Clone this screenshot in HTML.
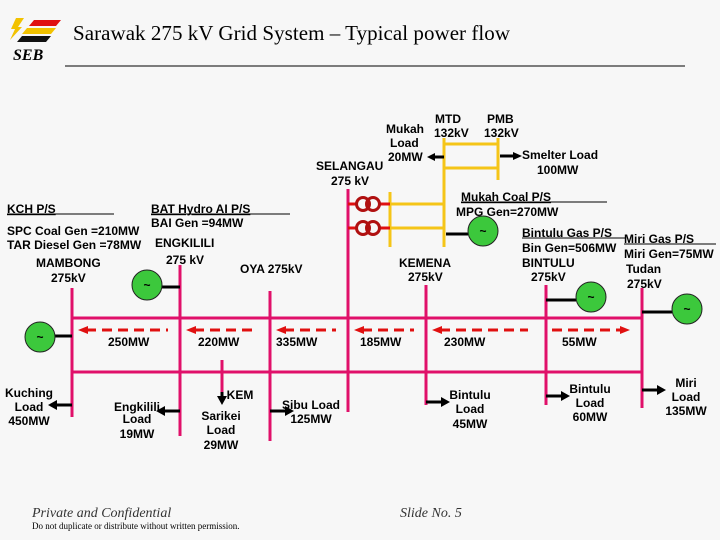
<!DOCTYPE html>
<html><head><style>
body{margin:0;background:#f7f7f7;}
svg{display:block}
.t{font-family:"Liberation Sans",sans-serif;font-weight:bold;font-size:12px;fill:#000}
.c{text-anchor:middle}
</style></head><body>
<svg width="720" height="540" viewBox="0 0 720 540" xmlns="http://www.w3.org/2000/svg">
<rect width="720" height="540" fill="#f7f7f7"/>
<!-- logo -->
<polygon points="16,18 24,18 18,27 22,27 10,40 15,29 11,29" fill="#f2c200"/>
<polygon points="34,20 61,20 56,26 29,26" fill="#e01010"/>
<polygon points="27,28 56,28 51,34 22,34" fill="#f2c200"/>
<polygon points="22,36 51,36 46,42 17,42" fill="#111"/>
<text x="13" y="60" font-family="Liberation Serif,serif" font-style="italic" font-weight="bold" font-size="16">SEB</text>
<text x="73" y="40" font-family="Liberation Serif,serif" font-size="21" textLength="437">Sarawak 275 kV Grid System – Typical power flow</text>
<line x1="65" y1="66" x2="685" y2="66" stroke="#000" stroke-width="1"/>

<!-- pink buses -->
<g stroke="#e0106a" stroke-width="3">
<line x1="72" y1="318" x2="642" y2="318"/>
<line x1="72" y1="372" x2="642" y2="372"/>
<line x1="72" y1="288" x2="72" y2="417"/>
<line x1="180" y1="265" x2="180" y2="436"/>
<line x1="270" y1="291" x2="270" y2="441"/>
<line x1="222" y1="360" x2="222" y2="392"/>
<line x1="348" y1="189" x2="348" y2="412"/>
<line x1="426" y1="285" x2="426" y2="405"/>
<line x1="546" y1="285" x2="546" y2="405"/>
<line x1="642" y1="288" x2="642" y2="408"/>
<line x1="348" y1="204" x2="356" y2="204" stroke="#e01010"/>
<line x1="348" y1="228" x2="356" y2="228" stroke="#e01010"/>
</g>
<!-- yellow -->
<g stroke="#f5c518" stroke-width="3">
<line x1="444" y1="138" x2="444" y2="247"/>
<line x1="498" y1="138" x2="498" y2="180"/>
<line x1="444" y1="144" x2="498" y2="144"/>
<line x1="444" y1="168" x2="498" y2="168"/>
<line x1="390" y1="192" x2="390" y2="247"/>
<line x1="390" y1="204" x2="444" y2="204"/>
<line x1="390" y1="228" x2="444" y2="228"/>
<line x1="380" y1="204" x2="390" y2="204" stroke="#e01010"/>
<line x1="380" y1="228" x2="390" y2="228" stroke="#e01010"/>
</g>
<!-- transformers -->
<g fill="none" stroke="#b01010" stroke-width="3">
<circle cx="363" cy="204" r="6.5"/><circle cx="373" cy="204" r="6.5"/>
<circle cx="363" cy="228" r="6.5"/><circle cx="373" cy="228" r="6.5"/>
</g>
<!-- generators -->
<g stroke="#000" stroke-width="3">
<line x1="55" y1="336" x2="72" y2="336"/>
<line x1="162" y1="287" x2="180" y2="287"/>
<line x1="446" y1="234" x2="468" y2="234"/>
<line x1="546" y1="300" x2="576" y2="300"/>
<line x1="642" y1="312" x2="672" y2="312"/>
</g>
<g fill="#3cc83c" stroke="#222" stroke-width="1">
<circle cx="40" cy="337" r="15"/>
<circle cx="147" cy="285" r="15"/>
<circle cx="483" cy="231" r="15"/>
<circle cx="591" cy="297" r="15"/>
<circle cx="687" cy="309" r="15"/>
</g>
<g class="t c" font-weight="normal">
<text x="40" y="341">~</text><text x="147" y="289">~</text><text x="483" y="235">~</text><text x="591" y="301">~</text><text x="687" y="313">~</text>
</g>
<!-- black arrows -->
<g stroke="#000" stroke-width="3">
<line x1="72" y1="405" x2="56" y2="405"/>
<line x1="180" y1="411" x2="164" y2="411"/>
<line x1="270" y1="411" x2="286" y2="411"/>
<line x1="222" y1="392" x2="222" y2="398"/>
<line x1="444" y1="157" x2="434" y2="157"/>
<line x1="500" y1="156" x2="514" y2="156"/>
<line x1="426" y1="402" x2="442" y2="402"/>
<line x1="546" y1="396" x2="562" y2="396"/>
<line x1="642" y1="390" x2="658" y2="390"/>
</g>
<g fill="#000">
<polygon points="48,405 57,400 57,410"/>
<polygon points="156,411 165,406 165,416"/>
<polygon points="294,411 285,406 285,416"/>
<polygon points="222,405 217,396 227,396"/>
<polygon points="427,157 435,153 435,161"/>
<polygon points="522,156 513,152 513,160"/>
<polygon points="450,402 441,397 441,407"/>
<polygon points="570,396 561,391 561,401"/>
<polygon points="666,390 657,385 657,395"/>
</g>
<!-- dashed flow arrows -->
<g stroke="#e01010" stroke-width="3" stroke-dasharray="10,6">
<line x1="86" y1="330" x2="168" y2="330"/>
<line x1="194" y1="330" x2="258" y2="330"/>
<line x1="284" y1="330" x2="336" y2="330"/>
<line x1="362" y1="330" x2="414" y2="330"/>
<line x1="440" y1="330" x2="528" y2="330"/>
<line x1="552" y1="330" x2="622" y2="330"/>
</g>
<g fill="#e01010">
<polygon points="78,330 88,326 88,334"/>
<polygon points="186,330 196,326 196,334"/>
<polygon points="276,330 286,326 286,334"/>
<polygon points="354,330 364,326 364,334"/>
<polygon points="432,330 442,326 442,334"/>
<polygon points="630,330 620,326 620,334"/>
</g>
<!-- labels -->
<g class="t">
<text x="108" y="346">250MW</text>
<text x="198" y="346">220MW</text>
<text x="276" y="346">335MW</text>
<text x="360" y="346">185MW</text>
<text x="444" y="346">230MW</text>
<text x="562" y="346">55MW</text>
<text x="7" y="213" text-decoration="underline">KCH P/S</text>
<line x1="7" y1="214" x2="114" y2="214" stroke="#000"/>
<text x="151" y="213" text-decoration="underline">BAT Hydro AI P/S</text>
<line x1="151" y1="214" x2="290" y2="214" stroke="#000"/>
<text x="151" y="227">BAI Gen =94MW</text>
<text x="7" y="235">SPC Coal Gen =210MW</text>
<text x="7" y="249">TAR Diesel Gen =78MW</text>
<text x="155" y="247">ENGKILILI</text>
<text x="166" y="264">275 kV</text>
<text x="36" y="267">MAMBONG</text>
<text x="51" y="282">275kV</text>
<text x="240" y="273">OYA 275kV</text>
<text x="316" y="170">SELANGAU</text>
<text x="331" y="185">275 kV</text>
<text x="386" y="133">Mukah</text>
<text x="390" y="147">Load</text>
<text x="388" y="161">20MW</text>
<text x="435" y="123">MTD</text>
<text x="434" y="137">132kV</text>
<text x="487" y="123">PMB</text>
<text x="484" y="137">132kV</text>
<text x="522" y="159">Smelter Load</text>
<text x="537" y="174">100MW</text>
<text x="461" y="201" text-decoration="underline">Mukah Coal P/S</text>
<line x1="461" y1="202" x2="607" y2="202" stroke="#000"/>
<text x="456" y="216">MPG Gen=270MW</text>
<text x="522" y="237">Bintulu Gas P/S</text>
<line x1="522" y1="238" x2="626" y2="238" stroke="#000"/>
<text x="522" y="252">Bin Gen=506MW</text>
<text x="522" y="267">BINTULU</text>
<text x="531" y="281">275kV</text>
<text x="624" y="243">Miri Gas P/S</text>
<line x1="624" y1="244" x2="716" y2="244" stroke="#000"/>
<text x="624" y="258">Miri Gen=75MW</text>
<text x="626" y="273">Tudan</text>
<text x="627" y="288">275kV</text>
<text x="399" y="267">KEMENA</text>
<text x="408" y="281">275kV</text>
</g>
<g class="t c">
<text x="29" y="397">Kuching</text><text x="29" y="411">Load</text><text x="29" y="425">450MW</text>
<text x="137" y="411">Engkilili</text><text x="137" y="423">Load</text><text x="137" y="438">19MW</text>
<text x="240" y="399">KEM</text>
<text x="221" y="420">Sarikei</text><text x="221" y="434">Load</text><text x="221" y="449">29MW</text>
<text x="311" y="409">Sibu Load</text><text x="311" y="423">125MW</text>
<text x="470" y="399">Bintulu</text><text x="470" y="413">Load</text><text x="470" y="428">45MW</text>
<text x="590" y="393">Bintulu</text><text x="590" y="407">Load</text><text x="590" y="421">60MW</text>
<text x="686" y="387">Miri</text><text x="686" y="401">Load</text><text x="686" y="415">135MW</text>
</g>
<!-- footer -->
<text x="32" y="517" font-family="Liberation Serif,serif" font-style="italic" font-size="14" fill="#333">Private and Confidential</text>
<text x="32" y="529" font-family="Liberation Serif,serif" font-size="9" fill="#000">Do not duplicate or distribute without written permission.</text>
<text x="400" y="517" font-family="Liberation Serif,serif" font-style="italic" font-size="14" fill="#333">Slide No. 5</text>
</svg>
</body></html>
